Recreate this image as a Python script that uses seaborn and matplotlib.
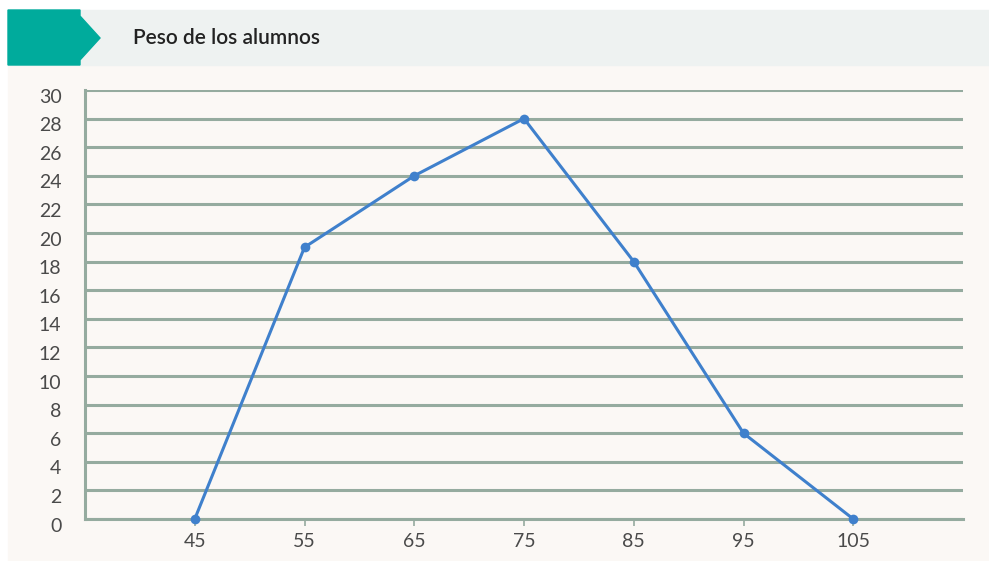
import matplotlib
matplotlib.use("Agg")
import matplotlib.pyplot as plt
import matplotlib.transforms as mtransforms
from matplotlib.patches import Polygon, Rectangle
import seaborn as sns
import pandas as pd

# ── Datos ──────────────────────────────────────────────
pesos = [45, 55, 65, 75, 85, 95, 105]
alumnos = [0, 19, 24, 28, 18, 6, 0]
titulo = "Peso de los alumnos"

df = pd.DataFrame({"peso": pesos, "alumnos": alumnos})

sns.set_theme(style="white")
plt.rcParams["font.family"] = ["Lato", "DejaVu Sans"]

GRID = "#95ab9f"
LINEA = "#3f80cc"
CREMA = "#fbf8f5"

fig = plt.figure(figsize=(9.89, 5.61), dpi=100, facecolor="white")
W, H = 989, 561

# fondo crema y banda de título (detrás de los ejes)
fig.patches.append(Rectangle((8 / W, 0), 1 - 8 / W, 1 - 65 / H,
                             transform=fig.transFigure, color=CREMA, zorder=-2))
fig.patches.append(Rectangle((8 / W, 1 - 65 / H), 1 - 8 / W, 55 / H,
                             transform=fig.transFigure, color="#eef2f1", zorder=-2))
tab = [(8, 10), (80, 10), (80, 16), (100, 38), (80, 60), (80, 65), (8, 65)]
fig.patches.append(Polygon([(x / W, 1 - y / H) for x, y in tab], closed=True,
                           transform=fig.transFigure, color="#00ab9c", zorder=-1))
fig.text(133 / W, 1 - 38 / H, titulo, fontsize=15, color="#222222",
         va="center", ha="left", fontweight="semibold")

ax = fig.add_axes([85 / W, 1 - 519 / H, (963 - 85) / W, (519 - 90) / H])
ax.set_facecolor("none")
ax.set_zorder(2)

sns.lineplot(data=df, x="peso", y="alumnos", ax=ax, color=LINEA, lw=2.2,
             marker="o", markersize=7, markeredgewidth=0, zorder=5, clip_on=False)

ax.set_xlim(35, 115)
ax.set_ylim(0, 30)
ax.set_xticks(pesos)
ax.set_yticks(range(0, 31, 2))
ax.yaxis.grid(True, color=GRID, lw=2.2)
ax.set_axisbelow(True)
ax.set_xlabel("")
ax.set_ylabel("")

for s in ["top", "right"]:
    ax.spines[s].set_visible(False)
for s in ["left", "bottom"]:
    ax.spines[s].set_color(GRID)
    ax.spines[s].set_linewidth(2.2)

ax.tick_params(axis="x", bottom=True, length=5, width=1.2, color=GRID,
               labelsize=14, labelcolor="#4a4a4a", pad=5)
ax.tick_params(axis="y", left=False, labelsize=14, labelcolor="#4a4a4a", pad=11)

# etiquetas del eje y un poco por debajo de cada línea
desplaza = mtransforms.ScaledTranslation(0, -4 / 72, fig.dpi_scale_trans)
for lbl in ax.get_yticklabels():
    lbl.set_transform(lbl.get_transform() + desplaza)

plt.savefig("out.png", dpi=100, facecolor="white")
